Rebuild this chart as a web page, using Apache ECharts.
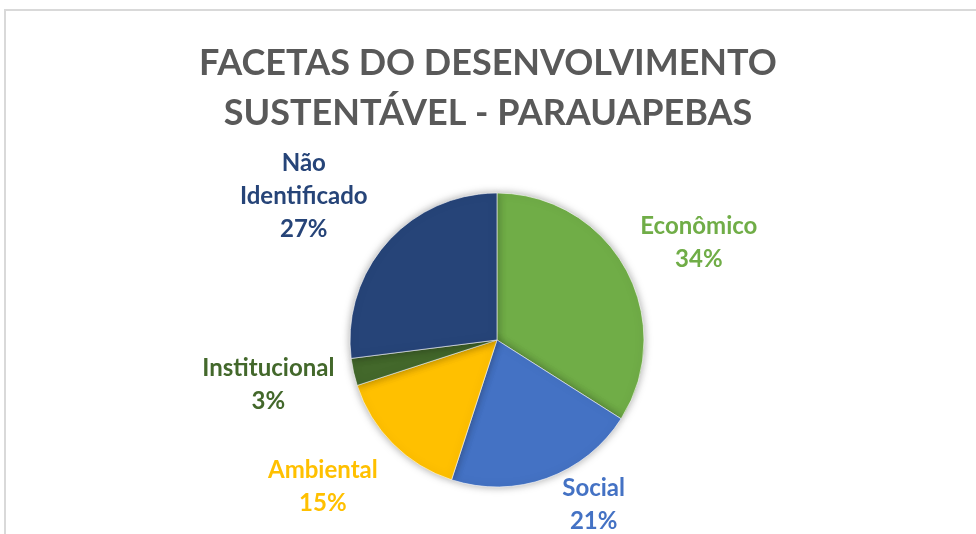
<!DOCTYPE html>
<html><head><meta charset="utf-8">
<script src="https://cdn.jsdelivr.net/npm/echarts@6/dist/echarts.min.js"></script>
<style>html,body{margin:0;padding:0;background:#fff}#c{width:976px;height:534px}</style>
</head><body><div id="c"></div>
<script>
const titleLines = ['FACETAS DO DESENVOLVIMENTO', 'SUSTENTÁVEL - PARAUAPEBAS'];
const categories = ['Econômico', 'Social', 'Ambiental', 'Institucional', 'Não Identificado'];
const values = [34, 21, 15, 3, 27];
const colors = ['#70AD47', '#4472C4', '#FFC000', '#43682B', '#264478'];
const labelNames = ['Econômico', 'Social', 'Ambiental', 'Institucional', 'Não\nIdentificado'];
// label placement (distance from centre, angle shift in degrees)
const labelDist = [224, 191, 228, 233, 241];
const labelShift = [3.1, -10.6, 4.8, 1.5, -4.7];

const CX = 497, CY = 340, R = 147;
const total = values.reduce((a, b) => a + b, 0);
const midAngles = [];
let acc = 0;
values.forEach(v => { midAngles.push((acc + v / 2) / total * 360); acc += v; });

const chart = echarts.init(document.getElementById('c'));
chart.setOption({
  animation: false,
  graphic: [{ type: 'rect', shape: { x: 5, y: 10, width: 1200, height: 800 },
    style: { fill: 'none', stroke: '#d9d9d9', lineWidth: 2 }, silent: true }],
  title: {
    text: titleLines.join('\n'), left: 'center', top: 33,
    textStyle: { fontFamily: 'Lato', fontWeight: 'bold', fontSize: 36, color: '#595959', lineHeight: 50 }
  },
  series: [{
    type: 'pie', center: [CX, CY], radius: R, startAngle: 90, clockwise: true,
    data: categories.map((c, i) => ({
      name: c, value: values[i],
      itemStyle: { color: colors[i] },
      label: { color: colors[i] }
    })),
    itemStyle: { borderColor: '#ffffff', borderWidth: 0.6, shadowBlur: 8, shadowColor: 'rgba(0,0,0,0.35)' },
    label: {
      position: 'outside', fontFamily: 'Lato', fontWeight: 'bold', fontSize: 24, lineHeight: 33,
      align: 'center',
      formatter: p => labelNames[p.dataIndex] + '\n' + Math.round(p.percent) + '%'
    },
    labelLine: { show: false },
    labelLayout: p => {
      const i = p.dataIndex;
      const a = (midAngles[i] + labelShift[i]) * Math.PI / 180;
      return { x: CX + labelDist[i] * Math.sin(a), y: CY - labelDist[i] * Math.cos(a), align: 'center', verticalAlign: 'middle' };
    }
  }]
});
</script></body></html>
